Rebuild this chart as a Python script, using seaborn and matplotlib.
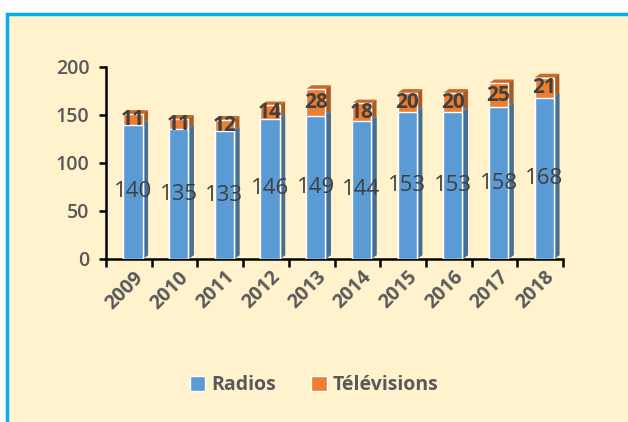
import matplotlib
matplotlib.use("Agg")
import matplotlib.pyplot as plt
import seaborn as sb
import pandas as pd
from matplotlib.patches import Rectangle, Polygon
from matplotlib.colors import to_rgb

years = ['2009', '2010', '2011', '2012', '2013', '2014', '2015', '2016', '2017', '2018']
radios = [140, 135, 133, 146, 149, 144, 153, 153, 158, 168]
televisions = [11, 11, 12, 14, 28, 18, 20, 20, 25, 21]

blue = '#5B9BD5'
orange = '#ED7D31'
txt = '#404040'

df = pd.DataFrame({'Année': years, 'Radios': radios, 'Télévisions': televisions})
df['Total'] = df['Radios'] + df['Télévisions']

sb.set_style("white")
plt.rcParams['font.family'] = ['Open Sans', 'DejaVu Sans']

fig = plt.figure(figsize=(6.28, 4.22), dpi=100)
fig.patch.set_facecolor('white')
# cream panel with blue frame
fig.patches.append(Rectangle((7/628, -0.01), 1.0, 1 - 14/422 + 0.01, transform=fig.transFigure,
                             facecolor='#FFF2CC', edgecolor='#00B0F0', linewidth=2.5, zorder=-5))

ax = fig.add_axes([106/628, 1 - 259/422, 457/628, 192/422])
ax.set_facecolor('none')
ax.set_zorder(2)

w = 0.42
shift = 0.09  # bars sit a bit right of the slot centre, like the 3D original
sb.barplot(data=df, x='Année', y='Total', color=orange, width=w, saturation=1, ax=ax, zorder=3)
sb.barplot(data=df, x='Année', y='Radios', color=blue, width=w, saturation=1, ax=ax, zorder=3)

# fake 3D depth: side and top faces from each bar
dx, dy = 0.12, 4
def darker(c, f):
    r, g, b = to_rgb(c)
    return (r * f, g * f, b * f)
for cont, col in zip(ax.containers, [orange, blue]):
    for p in cont:
        p.set_x(p.get_x() + shift)
        x0, y0 = p.get_x(), p.get_y()
        x1, y1 = x0 + p.get_width(), y0 + p.get_height()
        ax.add_patch(Polygon([(x1, y0), (x1 + dx, y0 + dy), (x1 + dx, y1 + dy), (x1, y1)],
                             closed=True, facecolor=darker(col, 0.72), edgecolor='none', zorder=2.9))
        ax.add_patch(Polygon([(x0, y1), (x0 + dx, y1 + dy), (x1 + dx, y1 + dy), (x1, y1)],
                             closed=True, facecolor=darker(col, 0.85), edgecolor='none', zorder=2.9))

# TV labels centred in the orange segment
for i, (r, t) in enumerate(zip(radios, televisions)):
    ax.text(i + shift, r + t / 2, str(t), ha='center', va='center', color=txt,
            fontsize=15, fontweight='bold', zorder=5)
ax.bar_label(ax.containers[1], labels=[str(v) for v in radios], label_type='center',
             color=txt, fontsize=16, zorder=5)

ax.set_ylim(0, 200)
ax.set_xlim(-0.5, len(years) - 0.5)
ax.set_yticks([0, 50, 100, 150, 200])
ax.set_xlabel('')
ax.set_ylabel('')
for s in ['top', 'right']:
    ax.spines[s].set_visible(False)
for s in ['left', 'bottom']:
    ax.spines[s].set_color('black')
    ax.spines[s].set_linewidth(1.8)
ax.tick_params(axis='y', left=True, direction='out', length=5, width=1.8, color='black',
               labelsize=14, labelcolor='#595959', pad=7)
for t in ax.get_yticklabels():
    t.set_fontweight(600)
ax.set_xticks([i + shift for i in range(len(years))])
ax.set_xticklabels(years, rotation=45, ha='right', rotation_mode='anchor',
                   fontsize=14, fontweight='bold', color='#595959')
ax.tick_params(axis='x', which='major', bottom=False, length=0, pad=6)
ax.set_xticks([i - 0.5 for i in range(len(years) + 1)], minor=True)
ax.tick_params(axis='x', which='minor', bottom=True, direction='out', length=6, width=1.8, color='black')

handles = [Rectangle((0, 0), 1, 1, facecolor=blue), Rectangle((0, 0), 1, 1, facecolor=orange)]
leg = fig.legend(handles, ['Radios', 'Télévisions'], loc='center', bbox_to_anchor=(0.50, 1 - 385/422),
                 ncol=2, frameon=False, handlelength=0.8, handleheight=0.8, handletextpad=0.3,
                 columnspacing=1.8, prop={'size': 14, 'weight': 'bold'})
for t in leg.get_texts():
    t.set_color('#595959')

fig.savefig('out.png', dpi=100, facecolor=fig.get_facecolor())
